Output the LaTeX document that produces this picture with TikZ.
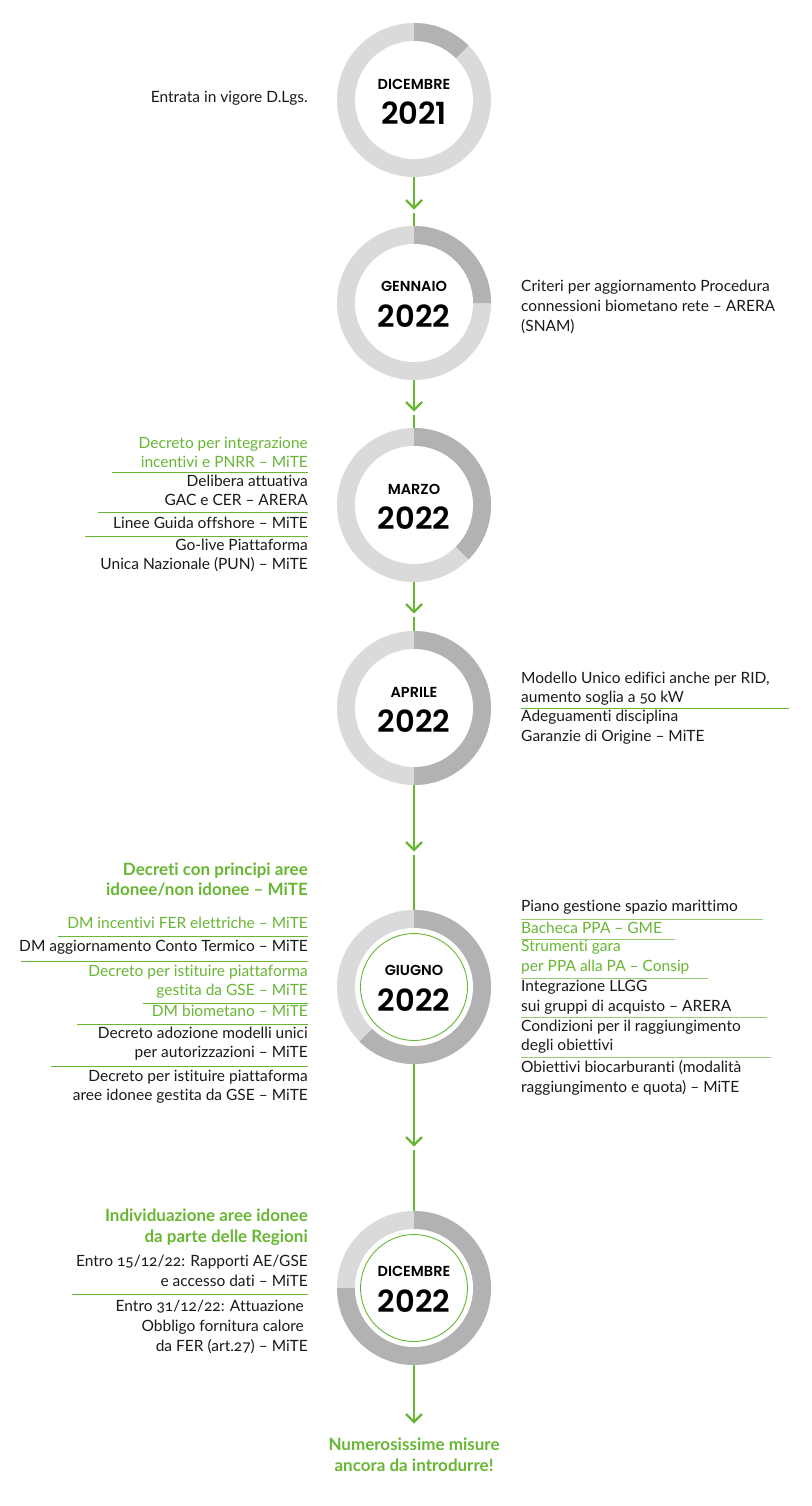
\documentclass[tikz,border=0pt]{standalone}
\usepackage{fontspec}
\setmainfont{Lato}[Numbers=OldStyle, Ligatures=NoCommon]
\newfontfamily\popf{Poppins}[BoldFont={Poppins SemiBold}]
\usetikzlibrary{calc}
\definecolor{gr}{RGB}{104,182,52}
\definecolor{grl}{RGB}{150,205,115}
\definecolor{ringL}{RGB}{218,218,218}
\definecolor{ringD}{RGB}{178,178,178}
\definecolor{txt}{RGB}{26,26,26}
\tikzset{
  body/.style={inner sep=0pt, font=\fontsize{15.5}{19.5}\selectfont, text=txt},
  lt/.style={body, anchor=mid east},
  rt/.style={body, anchor=mid west},
  gt/.style={text=gr},
  bt/.style={font=\fontsize{17}{20}\selectfont\bfseries},
  rule/.style={draw=gr, line width=1pt},
  rulel/.style={draw=grl, line width=1pt},
  gline/.style={draw=gr, line width=2.4pt},
  month/.style={inner sep=0pt, font=\popf\bfseries\fontsize{14.5}{15}\selectfont, text=black},
  year/.style={inner sep=0pt, font=\popf\bfseries\fontsize{30.5}{31}\selectfont, text=black},
  ringnode/.style={circle, minimum size=154pt, inner sep=0pt},
}
\newcommand\ringat[3]{%
  \fill[ringL] (414,-#2) circle (77pt);
  \fill[ringD] (414,-#2) -- ++(90:77pt) arc[start angle=90,end angle=#3,radius=77pt] -- cycle;
  \fill[white] (414,-#2) circle (59pt);
  \node[ringnode] (#1) at (414,-#2) {};
}
\newcommand\chev[2]{%
  \coordinate (#1) at (414,-#2);
  \draw[gline] ($(#1)+(-8,8)$) -- (#1) -- ($(#1)+(8,8)$);
}
\begin{document}
\begin{tikzpicture}[x=1pt,y=1pt]
\useasboundingbox[fill=white] (0,0) rectangle (811,-1506);

% rings
\ringat{r1}{100}{45}
\ringat{r2}{303}{0}
\ringat{r3}{505}{-45}
\ringat{r4}{708}{-90}
\ringat{r5}{987}{-135}
\ringat{r6}{1288}{-180}
\draw[gr, line width=0.9pt] (r5.center) circle (53.5pt);
\draw[gr, line width=0.9pt] (r6.center) circle (53.5pt);

% month / year
\node[month] (m1) at (414,-84) {DICEMBRE};
\node[year]  (y1) at (414,-113) {2021};
\node[month] (m2) at (414,-286) {GENNAIO};
\node[year]  (y2) at (414,-316) {2022};
\node[month] (m3) at (414,-489) {MARZO};
\node[year]  (y3) at (414,-518) {2022};
\node[month] (m4) at (414,-692) {APRILE};
\node[year]  (y4) at (414,-721) {2022};
\node[month] (m5) at (414,-970) {GIUGNO};
\node[year]  (y5) at (414,-1000) {2022};
\node[month] (m6) at (414,-1271) {DICEMBRE};
\node[year]  (y6) at (414,-1301) {2022};

% connectors
\chev{a1}{208} \coordinate (b1) at (414,-213);
\draw[gline] (r1.south) -- (a1); \draw[gline] (b1) -- (r2.north);
\chev{a2}{410} \coordinate (b2) at (414,-415);
\draw[gline] (r2.south) -- (a2); \draw[gline] (b2) -- (r3.north);
\chev{a3}{612} \coordinate (b3) at (414,-617);
\draw[gline] (r3.south) -- (a3); \draw[gline] (b3) -- (r4.north);
\chev{a4}{850} \coordinate (b4) at (414,-855);
\draw[gline] (r4.south) -- (a4); \draw[gline] (b4) -- (r5.north);
\chev{a5}{1145} \coordinate (b5) at (414,-1150);
\draw[gline] (r5.south) -- (a5); \draw[gline] (b5) -- (r6.north);
\chev{a6}{1422}
\draw[gline] (r6.south) -- (a6);

% 2021
\node[lt] (t01) at (308,-100) {Entrata in vigore D.Lgs.};

% Gennaio
\node[rt] (t02) at (521,-289) {Criteri per aggiornamento Procedura};
\node[rt] (t03) at (521,-309) {connessioni biometano rete – ARERA};
\node[rt] (t04) at (521,-329) {(SNAM)};

% Marzo
\node[lt,gt] (t05) at (308,-446) {Decreto per integrazione};
\node[lt,gt] (t06) at (308,-465) {incentivi e PNRR – MiTE};
\draw[rule] (112,-472) -- (308,-472);
\node[lt] (t07) at (308,-484) {Delibera attuativa};
\node[lt] (t08) at (308,-503) {GAC e CER – ARERA};
\draw[rule] (98,-512) -- (308,-512);
\node[lt] (t09) at (308,-526) {Linee Guida offshore – MiTE};
\draw[rule] (85,-536) -- (308,-536);
\node[lt] (t10) at (308,-548) {Go-live Piattaforma};
\node[lt] (t11) at (308,-567) {Unica Nazionale (PUN) – MiTE};

% Aprile
\node[rt] (t12) at (521,-681) {Modello Unico edifici anche per RID,};
\node[rt] (t13) at (521,-700) {aumento soglia a 50 kW};
\draw[rule] (521,-708) -- (789,-708);
\node[rt] (t14) at (521,-719) {Adeguamenti disciplina};
\node[rt] (t15) at (521,-739) {Garanzie di Origine – MiTE};

% Giugno left
\node[lt,gt,bt] (t16) at (308,-873) {Decreti con principi aree};
\node[lt,gt,bt] (t17) at (308,-893) {idonee/non idonee – MiTE};
\node[lt,gt] (t18) at (308,-926) {DM incentivi FER elettriche – MiTE};
\draw[rule] (58,-936) -- (308,-936);
\node[lt] (t19) at (308,-949) {DM aggiornamento Conto Termico – MiTE};
\draw[rule] (21,-961) -- (308,-961);
\node[lt,gt] (t20) at (308,-974) {Decreto per istituire piattaforma};
\node[lt,gt] (t21) at (308,-993) {gestita da GSE – MiTE};
\draw[rule] (143,-1003) -- (308,-1003);
\node[lt,gt] (t22) at (308,-1014) {DM biometano – MiTE};
\draw[rule] (77,-1024) -- (308,-1024);
\node[lt] (t23) at (308,-1036) {Decreto adozione modelli unici};
\node[lt] (t24) at (308,-1055) {per autorizzazioni – MiTE};
\draw[rule] (51,-1066) -- (308,-1066);
\node[lt] (t25) at (308,-1079) {Decreto per istituire piattaforma};
\node[lt] (t26) at (308,-1098) {aree idonee gestita da GSE – MiTE};

% Giugno right
\node[rt] (t27) at (521,-909) {Piano gestione spazio marittimo};
\draw[rulel] (521,-919) -- (763,-919);
\node[rt,gt] (t28) at (521,-931) {Bacheca PPA – GME};
\draw[rulel] (521,-939) -- (675,-939);
\node[rt,gt] (t29) at (521,-949) {Strumenti gara};
\node[rt,gt] (t30) at (521,-969) {per PPA alla PA – Consip};
\draw[rulel] (521,-978) -- (708,-978);
\node[rt] (t31) at (521,-989) {Integrazione LLGG};
\node[rt] (t32) at (521,-1009) {sui gruppi di acquisto – ARERA};
\draw[rulel] (521,-1017) -- (767,-1017);
\node[rt] (t33) at (521,-1029) {Condizioni per il raggiungimento};
\node[rt] (t34) at (521,-1048) {degli obiettivi};
\draw[rulel] (521,-1057) -- (771,-1057);
\node[rt] (t35) at (521,-1070) {Obiettivi biocarburanti (modalità};
\node[rt] (t36) at (521,-1090) {raggiungimento e quota) – MiTE};

% Dicembre 2022
\node[lt,gt,bt] (t37) at (308,-1219) {Individuazione aree idonee};
\node[lt,gt,bt] (t38) at (308,-1240) {da parte delle Regioni};
\node[lt] (t39) at (308,-1264) {Entro 15/12/22: Rapporti AE/GSE};
\node[lt] (t40) at (308,-1284) {e accesso dati – MiTE};
\draw[rule] (72,-1294) -- (308,-1294);
\node[lt] (t41) at (304,-1309) {Entro 31/12/22: Attuazione};
\node[lt] (t42) at (304,-1329) {Obbligo fornitura calore};
\node[lt] (t43) at (308,-1349) {da FER (art.27) – MiTE};

% final
\node[body,gt,bt,anchor=mid] (t44) at (414,-1448) {Numerosissime misure};
\node[body,gt,bt,anchor=mid] (t45) at (414,-1469) {ancora da introdurre!};
\end{tikzpicture}
\end{document}
